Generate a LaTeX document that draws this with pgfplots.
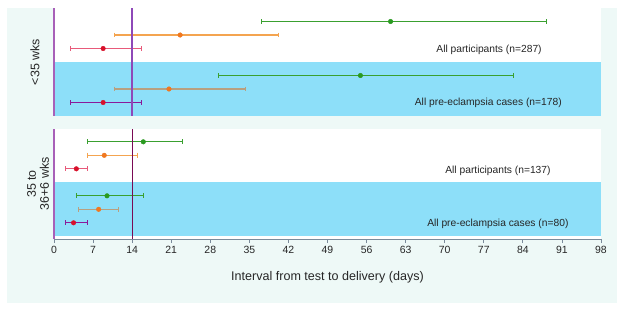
\documentclass[border=0pt]{standalone}
\usepackage{pgfplots}
\pgfplotsset{compat=1.18}
\usepackage{fontspec}
\setmainfont{Liberation Sans}
\definecolor{mint}{HTML}{EEF9F7}
\definecolor{band}{HTML}{8DDFF9}
\definecolor{gline}{HTML}{3AA030}
\definecolor{gdot}{HTML}{2A9A20}
\definecolor{oline}{HTML}{F4A450}
\definecolor{odot}{HTML}{F07820}
\definecolor{oblue}{HTML}{B8A080}
\definecolor{rline}{HTML}{E85A7A}
\definecolor{rdot}{HTML}{D8102A}
\definecolor{rblue}{HTML}{8A1A9A}
\definecolor{vzero}{HTML}{A860B8}
\definecolor{vtop}{HTML}{8E48B8}
\definecolor{vbot}{HTML}{7A0A55}
\definecolor{axgray}{HTML}{7A8A9A}
\pgfplotsset{
  ci/.style={mark=|, mark size=2.4bp, line width=1.15bp, mark options={solid, line width=1.15bp}},
  pt/.style={only marks, mark=*, mark size=2.3bp},
  panel/.style={scale only axis, width=547bp, xmin=0, xmax=98, clip=false,
    axis background/.style={fill=white}, ytick=\empty},
}
\tikzset{lab/.style={anchor=east, font=\fontsize{10.3}{12}\selectfont, text=black!85}}
\begin{document}
\begin{tikzpicture}
\path (0,0) rectangle (624bp,312bp);
\fill[mint] (7bp,9bp) rectangle (617bp,304bp);
% ---------------- top panel: <35 wks
\begin{axis}[panel, at={(54bp,196bp)}, anchor=south west, height=108bp,
  ymin=0, ymax=8, xtick=\empty, axis line style={draw=none}]
\fill[band] (axis cs:0,0) rectangle (axis cs:98,4);
% all participants
\addplot[ci, gline] coordinates {(37.2,7) (88.3,7)};
\addplot[pt, gdot] coordinates {(60.3,7)};
\addplot[ci, oline] coordinates {(10.9,6) (40.2,6)};
\addplot[pt, odot] coordinates {(22.6,6)};
\addplot[ci, rline] coordinates {(3.0,5) (15.7,5)};
\addplot[pt, rdot] coordinates {(8.8,5)};
% pre-eclampsia cases
\addplot[ci, gline] coordinates {(29.4,3) (82.4,3)};
\addplot[pt, gdot] coordinates {(54.9,3)};
\addplot[ci, oblue] coordinates {(10.9,2) (34.3,2)};
\addplot[pt, odot] coordinates {(20.6,2)};
\addplot[ci, rblue] coordinates {(3.0,1) (15.7,1)};
\addplot[pt, rdot] coordinates {(8.8,1)};
% reference lines
\addplot[vzero, line width=1.3bp] coordinates {(0,0) (0,8)};
\addplot[vtop, line width=1.3bp] coordinates {(14,0) (14,8)};
\node[lab] at (axis cs:88.0,4.9) {All participants (n=287)};
\node[lab] at (axis cs:91.6,0.96) {All pre-eclampsia cases (n=178)};
\node[rotate=90, font=\fontsize{12.5}{13}\selectfont, text=black!85] at ([xshift=-19bp]rel axis cs:0,0.5) {<35 wks};
\end{axis}
% ---------------- bottom panel: 35 to 36+6 wks
\begin{axis}[panel, at={(54bp,73bp)}, anchor=south west, height=110bp,
  ymin=-0.2, ymax=7.95,
  axis x line*=bottom, axis y line=none,
  x axis line style={draw=axgray, line width=0.8bp},
  xtick={0,7,...,98}, tick align=outside, major tick length=4bp,
  tick style={draw=axgray, line width=0.8bp},
  /pgf/number format/assume math mode=true,
  xticklabel style={font=\fontsize{10.5}{12}\selectfont, text=black!85},
  xlabel={Interval from test to delivery (days)},
  xlabel style={at={(axis description cs:0.5,0)}, anchor=center, yshift=-38bp,
    font=\fontsize{12.6}{14}\selectfont, text=black!85}]
\fill[band] (axis cs:0,0) rectangle (axis cs:98,4);
% all participants
\addplot[ci, gline] coordinates {(6.0,7) (23.0,7)};
\addplot[pt, gdot] coordinates {(16.0,7)};
\addplot[ci, oline] coordinates {(6.0,6) (15.0,6)};
\addplot[pt, odot] coordinates {(9.0,6)};
\addplot[ci, rline] coordinates {(2.0,5) (6.0,5)};
\addplot[pt, rdot] coordinates {(4.0,5)};
% pre-eclampsia cases
\addplot[ci, gline] coordinates {(4.0,3) (16.0,3)};
\addplot[pt, gdot] coordinates {(9.5,3)};
\addplot[ci, oblue] coordinates {(4.4,2) (11.5,2)};
\addplot[pt, odot] coordinates {(8.0,2)};
\addplot[ci, rblue] coordinates {(2.0,1) (6.0,1)};
\addplot[pt, rdot] coordinates {(3.5,1)};
% reference lines
\addplot[vzero, line width=1.3bp] coordinates {(0,-0.2) (0,7.95)};
\addplot[vbot, line width=1.2bp] coordinates {(14,-0.2) (14,7.95)};
\node[lab] at (axis cs:89.6,4.84) {All participants (n=137)};
\node[lab] at (axis cs:92.8,0.91) {All pre-eclampsia cases (n=80)};
\node[rotate=90, align=center, font=\fontsize{12.5}{13}\selectfont, text=black!85] at ([xshift=-16bp]rel axis cs:0,0.5) {35 to\\36+6 wks};
\end{axis}
\end{tikzpicture}
\end{document}
